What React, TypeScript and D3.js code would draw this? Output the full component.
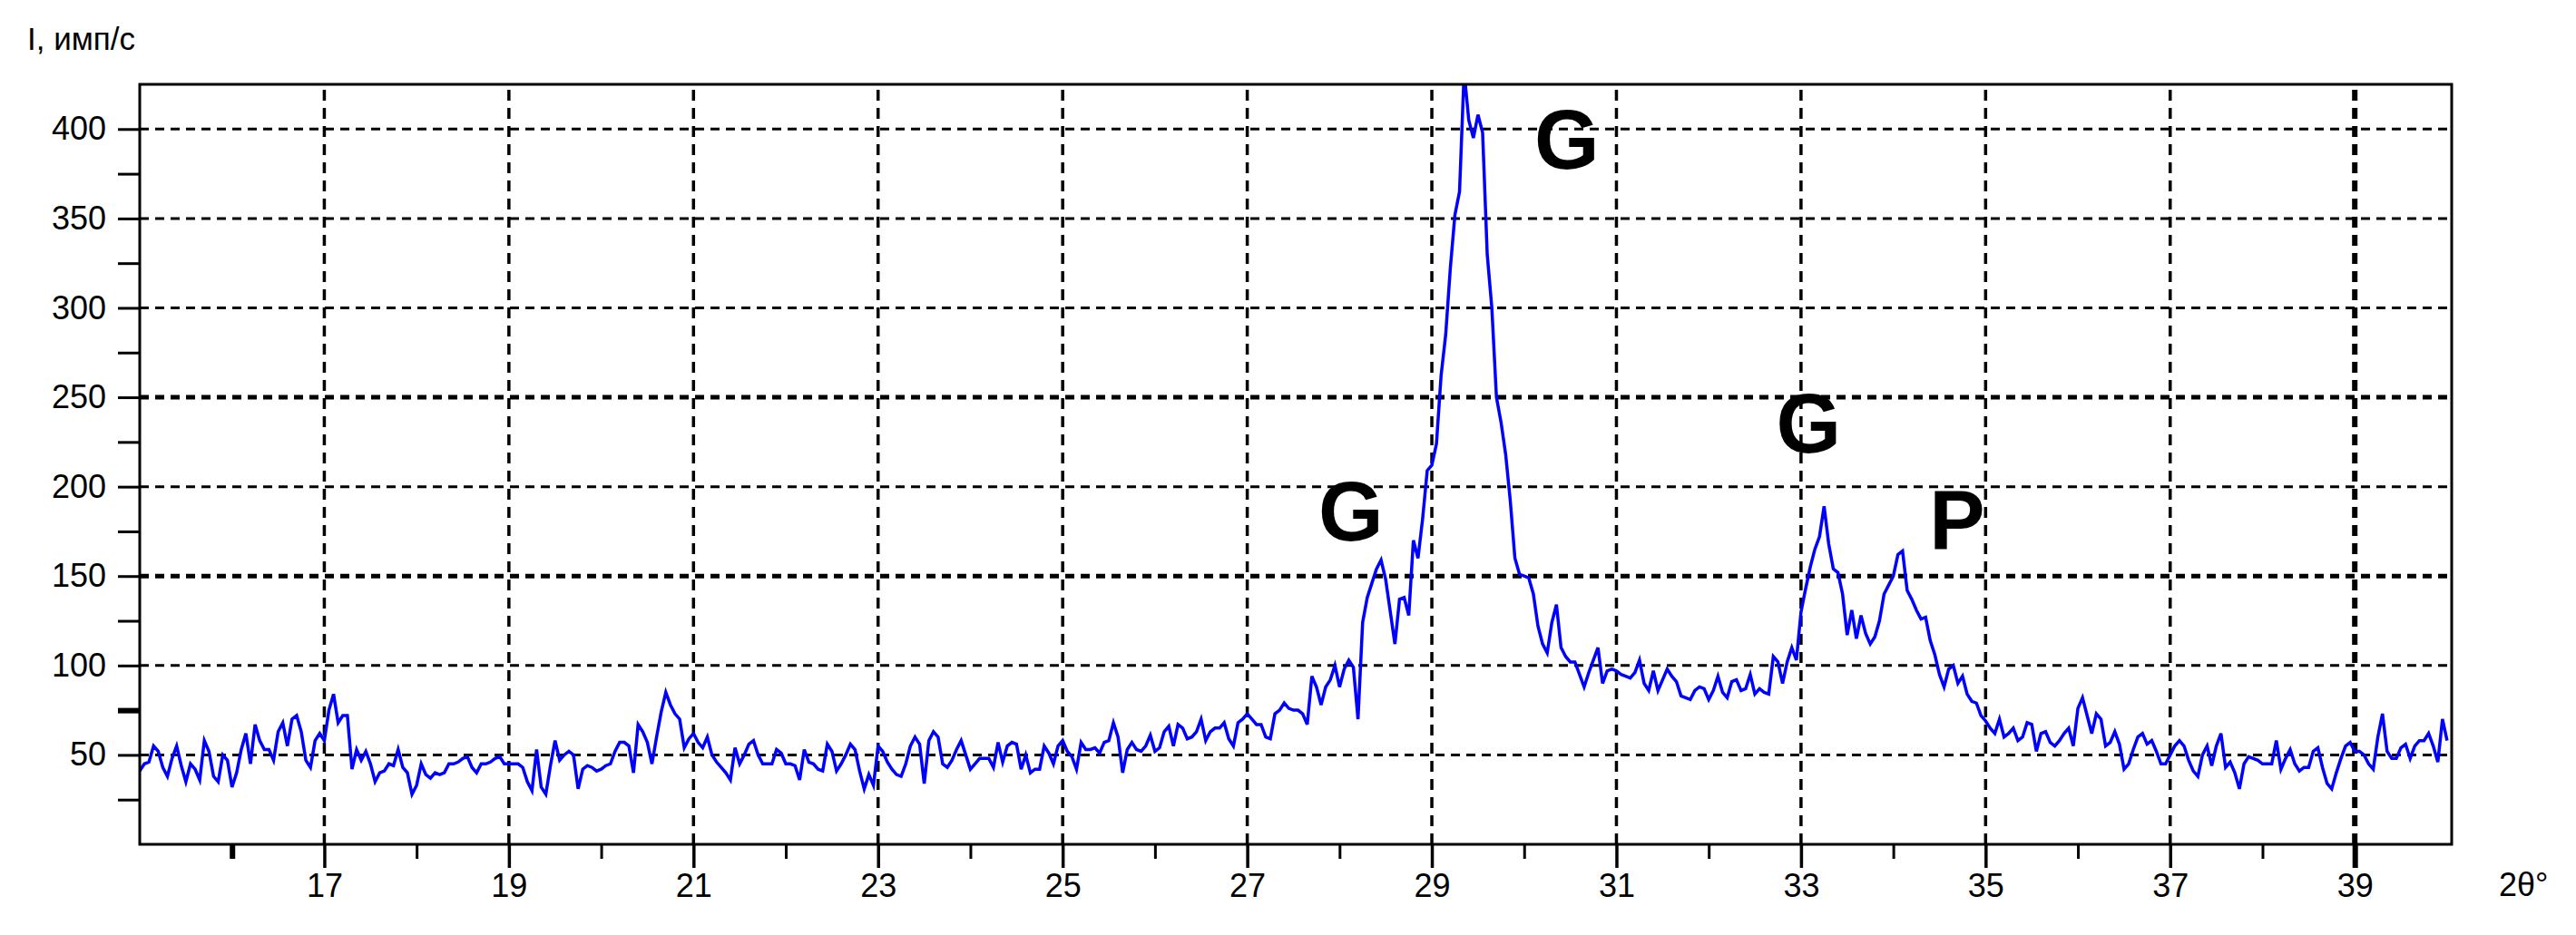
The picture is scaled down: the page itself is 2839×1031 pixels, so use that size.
import React, { useEffect, useRef } from "react";
import * as d3 from "d3";

const width = 2839;
const height = 1031;

// scan grid, degrees 2θ
const scanStart = 15;
const scanStep = 0.05;

// intensity, imp/s, one value every 0.05° from 15° to 40°
const counts = [
  41, 45, 46, 55, 52, 43, 38, 48, 55, 44,
  35, 45, 42, 36, 58, 52, 38, 35, 50, 47,
  32, 40, 53, 62, 45, 67, 58, 53, 53, 47,
  63, 68, 55, 70, 72, 63, 47, 43, 58, 62,
  58, 75, 84, 68, 72, 72, 42, 53, 47, 52,
  45, 35, 40, 41, 45, 44, 53, 43, 40, 28,
  33, 45, 39, 37, 40, 39, 40, 45, 45, 46,
  48, 49, 43, 40, 45, 45, 46, 48, 49, 45,
  45, 45, 45, 43, 35, 30, 53,
  // 19.35
  32, 28, 44, 58, 47, 50, 52, 50, 31, 42,
  44, 43, 41, 42, 44, 45, 52, 57, 57, 55,
  40, 67, 63, 57, 45, 60, 74, 85, 78, 73,
  70, 54, 59, 62, 57, 54, 60, 50, 46, 43,
  40, 36, 54, 45, 50, 56, 58, 50, 45, 45,
  45, 53, 51, 45, 45, 44, 36, 53, 46, 45,
  42, 41, 56, 52, 41, 45, 50, 56, 53, 41,
  31, 39, 33, 55, 52, 46, 42, 39, 38, 45,
  55, 60, 56, 34,
  // 23.55
  58, 63, 60, 45, 43, 47, 53, 58, 50, 42,
  45, 48, 48, 48, 43, 57, 46, 55, 57, 56,
  42, 50, 40, 42, 42, 55, 51, 45, 55, 58,
  52, 49, 42, 57, 53, 53, 54, 51, 57, 58,
  68, 60, 40, 53, 57, 53, 52, 55, 61, 52,
  54, 63, 66, 55, 67, 65, 59, 60, 63, 70,
  58, 63, 65, 65, 68, 59, 55, 68, 70, 73,
  70, 67, 67, 60, 59, 73, 75, 79, 76, 75,
  75, 73, 67, 94,
  // 27.75
  88, 78, 88, 92, 100, 88, 98, 103, 99, 70,
  124, 138, 146, 154, 159, 148, 130, 112, 137, 138,
  128, 170, 160, 182, 209, 212, 224, 262, 285, 322,
  352, 365, 432, 405, 395, 408, 398, 330, 300, 250,
  236, 218, 192, 160, 151, 150, 149, 140, 122, 112,
  107, 124, 134, 110, 105, 102, 102, 95, 88, 96,
  103, 110, 90, 97, 98, 97, 95, 94, 93, 96,
  103, 90, 86,
  // 31.40
  97, 86, 92, 98, 94, 91, 83, 82, 81, 86,
  88, 87, 81, 86, 94, 85, 82, 91, 92, 86,
  87, 95, 84, 87, 85, 84, 105, 102, 90, 102,
  110, 103, 130, 143, 155, 165, 172, 189, 168, 154,
  152, 140, 117, 131, 115, 128, 118, 112, 116, 125,
  140, 145, 150, 162, 164, 142, 137, 131, 126, 127,
  114, 106, 95, 88, 98, 100, 90, 94, 84, 80,
  79, 72, 69, 65, 62, 70, 60, 62, 65, 58,
  60, 68, 67, 52, 62,
  // 35.65
  63, 57, 55, 58, 62, 65, 55, 76, 82, 72,
  62, 73, 70, 55, 57, 63, 56, 42, 45, 53,
  60, 62, 56, 58, 52, 45, 45, 50, 55, 58,
  55, 47, 41, 38, 50, 55, 44, 55, 62, 43,
  46, 40, 31, 45, 49, 48, 47, 45, 45, 45,
  58, 42, 48, 53, 45, 41, 43, 43, 52, 54,
  43, 34, 31, 40, 48, 55, 57, 52, 52, 50,
  45, 42, 60, 73, 52, 48, 48, 54, 56, 48,
  55, 58, 58, 62, 55, 46, 70, 58,
];

const yMajorTicks = [50, 100, 150, 200, 250, 300, 350, 400];
const yMinorTicks = [25, 75, 125, 175, 225, 275, 325, 375];
const xMajorTicks = [17, 19, 21, 23, 25, 27, 29, 31, 33, 35, 37, 39];
const xMinorTicks = [16, 18, 20, 22, 24, 26, 28, 30, 32, 34, 36, 38];

// phase marks (G, P) placed in data coordinates
const phaseText = ["G", "G", "G", "P"];
const phaseAngle = [27.77, 30.11, 32.73, 34.39];
const phaseCount = [170, 378, 219, 165];

const font = "'Liberation Sans', Arial, sans-serif";

export default function App() {
  const ref = useRef<SVGSVGElement>(null);

  useEffect(() => {
    const svg = d3.select(ref.current);
    svg.selectAll("*").remove();

    const x = d3.scaleLinear().domain([15, 40.05]).range([154, 2702]);
    const y = d3.scaleLinear().domain([0, 425]).range([931, 93]);
    const [x0, x1] = x.range();
    const [y0, y1] = y.range();

    // сетка
    const grid = svg.append("g").attr("stroke", "#000").attr("fill", "none");
    grid
      .selectAll("line.h")
      .data(yMajorTicks)
      .join("line")
      .attr("class", "h")
      .attr("x1", x0)
      .attr("x2", x1)
      .attr("y1", (d) => y(d))
      .attr("y2", (d) => y(d))
      .attr("stroke-width", (d) => (d === 150 || d === 250 ? 5 : 3))
      .attr("stroke-dasharray", "10 7");
    grid
      .selectAll("line.v")
      .data(xMajorTicks)
      .join("line")
      .attr("class", "v")
      .attr("x1", (d) => x(d))
      .attr("x2", (d) => x(d))
      .attr("y1", y0)
      .attr("y2", y1)
      .attr("stroke-width", (d) => (d === 39 ? 6 : 3.5))
      .attr("stroke-dasharray", "12 8");

    // кривая
    svg
      .append("clipPath")
      .attr("id", "plot-clip")
      .append("rect")
      .attr("x", x0)
      .attr("y", y1)
      .attr("width", x1 - x0)
      .attr("height", y0 - y1);

    const line = d3
      .line<number>()
      .x((d, i) => x(scanStart + i * scanStep))
      .y((d) => y(d));

    svg
      .append("path")
      .datum(counts)
      .attr("clip-path", "url(#plot-clip)")
      .attr("fill", "none")
      .attr("stroke", "#0000ff")
      .attr("stroke-width", 3.5)
      .attr("stroke-linejoin", "miter")
      .attr("d", line);

    // рамка
    svg
      .append("rect")
      .attr("x", x0)
      .attr("y", y1)
      .attr("width", x1 - x0)
      .attr("height", y0 - y1)
      .attr("fill", "none")
      .attr("stroke", "#000")
      .attr("stroke-width", 3);

    // ось y
    const yAxis = d3
      .axisLeft(y)
      .tickValues(yMajorTicks)
      .tickSize(24)
      .tickPadding(13)
      .tickSizeOuter(0);
    const gy = svg.append("g").attr("transform", `translate(${x0},0)`).call(yAxis);
    gy.select(".domain").remove();
    gy.selectAll(".tick line").attr("stroke-width", 3);
    gy.selectAll(".tick text")
      .attr("font-family", font)
      .attr("font-size", 36)
      .attr("fill", "#000");

    const yMinor = d3.axisLeft(y).tickValues(yMinorTicks).tickSize(24).tickFormat(() => "");
    const gym = svg.append("g").attr("transform", `translate(${x0},0)`).call(yMinor);
    gym.select(".domain").remove();
    gym.selectAll(".tick line").attr("stroke-width", (d) => (d === 75 ? 6 : 3));

    // ось x
    const xAxis = d3
      .axisBottom(x)
      .tickValues(xMajorTicks)
      .tickSize(26)
      .tickPadding(6)
      .tickSizeOuter(0)
      .tickFormat(d3.format("d"));
    const gx = svg.append("g").attr("transform", `translate(0,${y0})`).call(xAxis);
    gx.select(".domain").remove();
    gx.selectAll(".tick line").attr("stroke-width", (d) => (d === 39 ? 6 : 3.5));
    gx.selectAll(".tick text")
      .attr("font-family", font)
      .attr("font-size", 36)
      .attr("fill", "#000");

    const xMinor = d3.axisBottom(x).tickValues(xMinorTicks).tickSize(16).tickFormat(() => "");
    const gxm = svg.append("g").attr("transform", `translate(0,${y0})`).call(xMinor);
    gxm.select(".domain").remove();
    gxm.selectAll(".tick line").attr("stroke-width", (d) => (d === 16 ? 6 : 3));

    // подписи осей
    svg
      .append("text")
      .attr("x", 30)
      .attr("y", 55)
      .attr("font-family", font)
      .attr("font-size", 35)
      .attr("fill", "#000")
      .text("I, имп/с");

    svg
      .append("text")
      .attr("x", 2754)
      .attr("y", 988)
      .attr("font-family", font)
      .attr("font-size", 36)
      .attr("fill", "#000")
      .text("2θ°");

    // фазы
    svg
      .append("g")
      .selectAll("text")
      .data(phaseText)
      .join("text")
      .attr("x", (d, i) => x(phaseAngle[i]))
      .attr("y", (d, i) => y(phaseCount[i]))
      .attr("font-family", font)
      .attr("font-weight", "bold")
      .attr("font-size", 92)
      .attr("fill", "#000")
      .text((d) => d);
  }, []);

  return (
    <svg
      ref={ref}
      width={width}
      height={height}
      style={{ position: "absolute", left: 0, top: 0, background: "#fff" }}
    />
  );
}
